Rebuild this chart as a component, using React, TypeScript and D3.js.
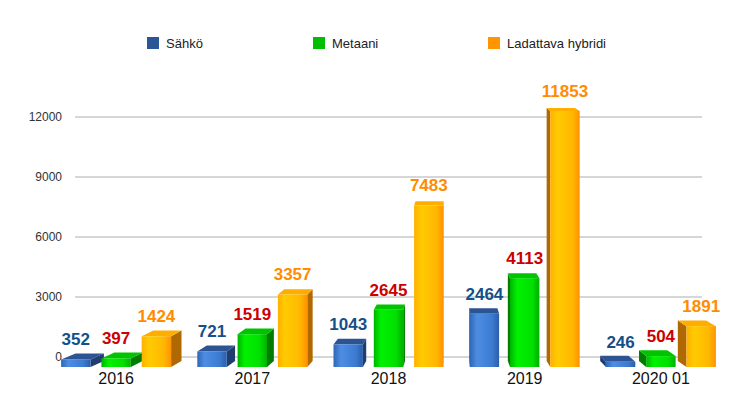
import React from 'react';
import * as d3 from 'd3';

const categories = ['2016', '2017', '2018', '2019', '2020 01'];
const seriesNames = ['Sähkö', 'Metaani', 'Ladattava hybridi'];
const sahko = [352, 721, 1043, 2464, 246];
const metaani = [397, 1519, 2645, 4113, 504];
const hybridi = [1424, 3357, 7483, 11853, 1891];
const yTicks = [0, 3000, 6000, 9000, 12000];

const W = 744;
const H = 399;
const FONT = '"Liberation Sans", Arial, Helvetica, sans-serif';

// look of each series: legend, label, front gradient stops, side, top
const styles = [
  {
    legend: '#2a5597', label: '#154f8a',
    front: ['#2f66b8', '#4d8de2', '#3d7bd3', '#2b5ea9'],
    side: '#1f3d6e', top: '#2c5493',
  },
  {
    legend: '#00bf00', label: '#cc0000',
    front: ['#00b400', '#00f200', '#00e000', '#00b000'],
    side: '#007c00', top: '#00c400',
  },
  {
    legend: '#ff9500', label: '#ff8c00',
    front: ['#ffb000', '#ffcb00', '#ffb800', '#ff9200'],
    side: '#b06800', top: '#ffae00',
  },
];

// perspective helpers
const vx = 452;
const fx = 0.037;
const vy = -139;
const fy = 0.012;
const backX = (x: number) => x - (x - vx) * fx;
const backY = (y: number) => y - (y - vy) * fy;

export default function App() {
  const allSeries = [sahko, metaani, hybridi];

  const x0 = d3.scaleBand<string>().domain(categories).range([48, 729]).padding(0);
  const x1 = d3.scaleBand<string>().domain(seriesNames).range([-55, 55]).paddingInner(0.27);
  const yFront = d3.scaleLinear().domain([0, 12000]).range([367, 367 - 259.2]);
  const yGrid = d3.scaleLinear().domain([0, 12000]).range([357, 117]);

  type Bar = { x: number; w: number; yt: number; yb: number; s: number; v: number; c: string };
  const bars: Bar[] = [];
  categories.forEach((c, i) => {
    const cx = (x0(c) as number) + x0.bandwidth() / 2;
    seriesNames.forEach((name, s) => {
      const v = allSeries[s][i];
      bars.push({
        x: cx + (x1(name) as number),
        w: x1.bandwidth(),
        yt: yFront(v),
        yb: yFront(0),
        s, v, c,
      });
    });
  });
  const order = [...bars].sort(
    (a, b) => Math.abs(b.x + b.w / 2 - vx) - Math.abs(a.x + a.w / 2 - vx)
  );

  const legendX = [147, 313, 488];

  return (
    <svg width={W} height={H} style={{ position: 'absolute', left: 0, top: 0, background: '#fff' }}
      fontFamily={FONT}>
      <defs>
        {styles.map((st, i) => (
          <linearGradient key={i} id={`front${i}`} x1="0" x2="1" y1="0" y2="0">
            <stop offset="0%" stopColor={st.front[0]} />
            <stop offset="25%" stopColor={st.front[1]} />
            <stop offset="75%" stopColor={st.front[2]} />
            <stop offset="100%" stopColor={st.front[3]} />
          </linearGradient>
        ))}
      </defs>

      {/* legend */}
      {seriesNames.map((name, i) => (
        <g key={name}>
          <rect x={legendX[i]} y={37} width={12} height={12} fill={styles[i].legend} />
          <text x={legendX[i] + 19} y={48} fontSize={13} fill="#222">{name}</text>
        </g>
      ))}

      {/* grid and y ticks */}
      {yTicks.map(t => (
        <g key={t}>
          <line x1={75} x2={702} y1={yGrid(t)} y2={yGrid(t)} stroke="#c8c8c8" strokeWidth={1.5} />
          <text x={62} y={yGrid(t)} dy="0.35em" textAnchor="end" fontSize={12} fill="#333">{t}</text>
        </g>
      ))}

      {/* bars */}
      {order.map((b, i) => {
        const st = styles[b.s];
        const xl = b.x;
        const xr = b.x + b.w;
        const btY = backY(b.yt);
        const bbY = backY(b.yb);
        const cx = xl + b.w / 2;
        const sideX = cx < vx ? xr : xl;
        const sidePts = [
          [sideX, b.yt], [backX(sideX), btY], [backX(sideX), bbY], [sideX, b.yb],
        ];
        const topPts = [
          [xl, b.yt], [xr, b.yt], [backX(xr), btY], [backX(xl), btY],
        ];
        return (
          <g key={i}>
            <polygon points={sidePts.map(p => p.join(',')).join(' ')} fill={st.side} />
            <polygon points={topPts.map(p => p.join(',')).join(' ')} fill={st.top} />
            <rect x={xl} y={b.yt} width={b.w} height={b.yb - b.yt} fill={`url(#front${b.s})`} />
          </g>
        );
      })}

      {/* value labels */}
      {bars.map((b, i) => (
        <text key={i} x={b.x + b.w / 2} y={b.yt - 14} textAnchor="middle" fontSize={17}
          fontWeight="bold" fill={styles[b.s].label}>{b.v}</text>
      ))}

      {/* category labels */}
      {categories.map(c => (
        <text key={c} x={(x0(c) as number) + x0.bandwidth() / 2} y={384} textAnchor="middle"
          fontSize={16} fill="#111">{c}</text>
      ))}
    </svg>
  );
}
